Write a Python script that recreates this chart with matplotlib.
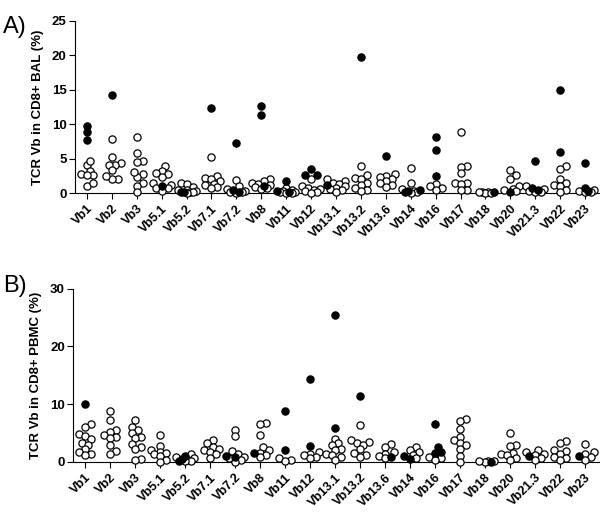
import matplotlib
matplotlib.use("Agg")
import matplotlib.pyplot as plt
import numpy as np

plt.rcParams['font.family'] = ['Liberation Sans', 'DejaVu Sans']

categories = ["Vb1", "Vb2", "Vb3", "Vb5.1", "Vb5.2", "Vb7.1", "Vb7.2", "Vb8", "Vb11", "Vb12",
              "Vb13.1", "Vb13.2", "Vb13.6", "Vb14", "Vb16", "Vb17", "Vb18", "Vb20", "Vb21.3",
              "Vb22", "Vb23"]

# panel A: BAL, open = controls, filled = expanded
bal_open = [
    [4.0, 3.2, 2.6, 1.0, 4.7, 2.7, 2.6, 1.5],
    [7.9, 5.3, 4.3, 4.0, 2.1, 2.0, 4.1, 3.3, 2.5],
    [8.1, 5.8, 4.6, 4.5, 2.7, 2.3, 3.0, 1.4, 1.0, 0.1],
    [3.9, 3.2, 2.7, 2.9, 2.4, 1.4, 1.2, 0.8, 0.7, 0.3],
    [1.4, 1.3, 0.9, 0.5, 0.3, 0.2, 0.1, 0.0, 0.4],
    [5.2, 2.5, 2.2, 2.0, 1.7, 1.3, 1.1, 0.9, 0.8],
    [1.9, 1.0, 0.6, 0.3, 0.2, 0.1, 0.0],
    [2.0, 1.7, 1.5, 1.3, 1.2, 0.9, 0.8, 0.6],
    [0.7, 0.5, 0.3, 0.2, 0.1, 0.0, 0.0],
    [2.0, 1.0, 0.8, 0.6, 0.4, 0.3, 0.2, 0.0],
    [2.0, 1.8, 1.5, 1.3, 1.0, 0.8, 0.6, 0.4, 0.2],
    [3.9, 2.6, 2.2, 2.0, 1.5, 1.2, 0.7, 0.4, 0.3],
    [2.7, 2.5, 2.3, 2.0, 1.8, 1.5, 1.2, 0.9],
    [3.6, 1.5, 0.6, 0.3, 0.1, 0.0],
    [1.3, 1.0, 0.8, 0.5],
    [8.9, 3.9, 3.8, 2.9, 1.5, 1.4, 1.3, 0.5, 0.4],
    [0.2, 0.1, 0.0, 0.1, 0.0],
    [3.4, 2.6, 2.1, 1.0, 0.6, 0.5, 0.3],
    [1.0, 0.6, 0.3, 0.2, 0.1],
    [3.9, 3.5, 2.0, 1.5, 1.2, 1.0, 0.5, 0.2],
    [0.5, 0.3, 0.1, 0.2],
]
bal_filled = [
    [8.8, 9.8, 7.7], [14.3], [], [1.0], [0.2, 0.1], [12.3], [7.2, 0.5, 0.2],
    [12.6, 11.4, 1.0], [1.7, 0.3, 0.1], [3.5, 2.6, 2.6], [1.1], [19.8], [5.4],
    [0.3, 0.1, 0.5], [8.1, 6.2, 2.5], [], [0.1], [0.2], [4.6, 0.8, 0.4],
    [15.0, 5.9], [4.4, 0.7, 0.3],
]

# panel B: PBMC
pbmc_open = [
    [6.5, 6.0, 4.8, 4.5, 3.9, 3.3, 3.0, 2.2, 1.7, 1.3, 1.2],
    [8.8, 7.3, 5.6, 5.2, 4.7, 4.3, 4.2, 2.9, 1.8, 1.3],
    [7.3, 6.0, 5.5, 5.0, 4.3, 4.2, 3.1, 2.5, 2.2, 0.5, 0.3],
    [4.7, 2.8, 2.0, 1.7, 1.6, 1.3, 1.0, 0.4, 0.0],
    [1.3, 0.9, 0.6, 0.3, 0.2, 0.1],
    [3.8, 3.2, 2.6, 2.3, 2.0, 1.7, 1.4, 0.7],
    [5.6, 4.5, 1.8, 1.4, 0.9, 0.6, 0.3, 0.0],
    [6.8, 6.5, 4.7, 2.5, 2.0, 1.6, 1.2, 0.9],
    [0.6, 0.3, 0.2],
    [1.7, 1.4, 1.2, 0.8, 0.6],
    [4.0, 3.2, 2.9, 2.3, 2.0, 1.3, 1.2, 0.9, 0.4],
    [6.4, 3.8, 3.5, 3.2, 3.0, 2.2, 1.6, 1.2, 0.9],
    [3.1, 2.5, 1.7, 1.4, 1.0, 0.6],
    [2.6, 2.0, 1.7, 1.2, 0.6],
    [0.9, 0.6, 0.3],
    [7.5, 7.1, 5.7, 4.3, 3.8, 3.3, 2.9, 2.3, 1.0, 0.0],
    [0.2, 0.1, 0.0, 0.1],
    [5.0, 3.0, 2.7, 1.6, 1.3, 1.2, 0.6, 0.4],
    [2.0, 1.7, 1.4, 1.2, 0.6, 0.4],
    [3.6, 3.2, 2.1, 1.8, 1.4, 0.9, 0.6, 0.3],
    [3.1, 1.7, 1.4, 0.9, 0.3],
]
pbmc_filled = [
    [10.1], [], [], [], [1.0, 0.5, 0.2], [], [0.8, 1.0], [1.5], [8.8, 2.1],
    [14.4, 2.7], [25.4, 5.8], [11.4], [0.8], [0.5, 1.0], [6.6, 2.5, 1.7, 1.6],
    [], [0.0], [], [1.0], [], [1.0],
]

SPACING = 24.9  # pixels between categories


def swarm_offsets(vals, px_per_unit, d=5.5, max_off=11.0):
    # loose beeswarm in pixel space, capped width, returned in category units
    vals = np.asarray(vals, dtype=float)
    offs = np.zeros(len(vals))
    placed = []
    steps = [0.0]
    k = 1
    while k * 3.0 <= max_off:
        steps += [k * 3.0, -k * 3.0]
        k += 1
    for i in np.argsort(vals):
        y = vals[i] * px_per_unit
        best, best_d = 0.0, -1
        for s in steps:
            dmin = min([np.hypot(s - px, y - py) for px, py in placed] or [99])
            if dmin >= d:
                best = s
                break
            if dmin > best_d:
                best, best_d = s, dmin
        placed.append((best, y))
        offs[i] = best
    return offs / SPACING


def draw_panel(ax, opens, filleds, ymax, yticks, px_per_unit, ylabel):
    for i, (o, f) in enumerate(zip(opens, filleds)):
        vals = list(o) + list(f)
        offs = swarm_offsets(vals, px_per_unit)
        n = len(o)
        ax.plot(i + offs[:n], o, 'o', ms=5.2, mfc='white', mec='black', mew=0.9,
                clip_on=False, zorder=3)
        if f:
            ax.plot(i + offs[n:], f, 'o', ms=5.2, mfc='black', mec='black', mew=0.9,
                    clip_on=False, zorder=4)
    ax.set_xlim(-0.48, len(categories) - 1 + 0.6)
    ax.set_ylim(0, ymax)
    ax.set_yticks(yticks)
    ax.set_xticks(range(len(categories)))
    ax.set_xticklabels(categories, rotation=45, ha='right', rotation_mode='anchor',
                       fontsize=9, fontweight='bold')
    for lab in ax.get_yticklabels():
        lab.set_fontweight('bold')
        lab.set_fontsize(9.5)
    ax.tick_params(axis='both', direction='out', length=4, width=0.8, pad=2)
    ax.tick_params(axis='x', pad=3)
    ax.spines['top'].set_visible(False)
    ax.spines['right'].set_visible(False)
    ax.spines['left'].set_linewidth(0.8)
    ax.spines['bottom'].set_linewidth(0.8)
    ax.set_ylabel(ylabel, fontsize=9.5, fontweight='bold', labelpad=6)


fig = plt.figure(figsize=(6, 5.12), dpi=100)
ax1 = fig.add_axes([0.125, 0.623, 0.875, 0.336])
ax2 = fig.add_axes([0.122, 0.098, 0.878, 0.338])

draw_panel(ax1, bal_open, bal_filled, 25, [0, 5, 10, 15, 20, 25], 172 / 25,
           "TCR Vb in CD8+ BAL (%)")
draw_panel(ax2, pbmc_open, pbmc_filled, 30, [0, 10, 20, 30], 173 / 30,
           "TCR Vb in CD8+ PBMC (%)")

fig.text(0.005, 0.935, "A)", fontsize=17)
fig.text(0.005, 0.43, "B)", fontsize=17)

fig.savefig("out.png", dpi=100)
